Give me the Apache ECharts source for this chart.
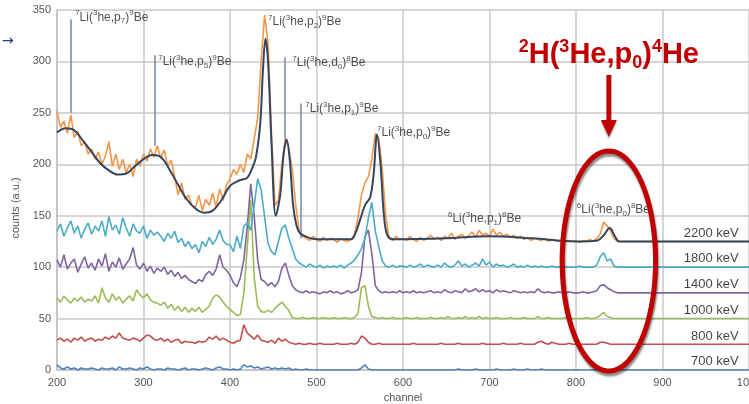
<!DOCTYPE html>
<html>
<head>
<meta charset="utf-8">
<script src="https://cdn.jsdelivr.net/npm/echarts@6/dist/echarts.min.js"></script>
<style>
html, body { margin: 0; padding: 0; background: #fff; }
#chart { width: 749px; height: 404px; }
</style>
</head>
<body>
<div id="chart"></div>
<script>
// spectra sampled every 4 channels from 200 to 876, flat to 1000 after that
var chStart = 200, chStep = 4, chEnd = 1000;

var s700 = [
    5, 2, 1, 3, 1, 2, 0, 2, 1, 1,
    2, 1, 0, 2, 1, 1, 2, 0, 3, 1,
    1, 2, 1, 0, 2, 1, 3, 1, 0, 1,
    1, 0, 2, 1, 1, 0, 1, 2, 0, 1,
    1, 0, 1, 2, 1, 0, 2, 3, 1, 1,
    0, 1, 0, 1, 5, 3, 4, 2, 3, 1,
    2, 3, 1, 2, 1, 2, 1, 2, 0, 1,
    0, 0, 1, 0, 0, 0, 0, 0, 0, 0,
    0, 0, 0, 0, 0, 0, 0, 0, 2, 5,
    1, 0, 0, 0, 0, 0, 0, 0, 0, 0,
    0, 0, 0, 0, 0, 0, 0, 0, 0, 0,
    0, 0, 0, 0, 0, 0, 1, 0, 0, 0,
    0, 1, 0, 0, 0, 0, 0, 1, 0, 0,
    0, 0, 1, 0, 0, 0, 1, 0, 0, 0,
    1, 0, 0, 0, 0, 0, 0, 0, 0, 0,
    0, 0, 0, 0, 0, 0, 0, 1, 1, 0,
    0, 0, 0, 0, 0, 0, 0, 0, 0, 0
];
var s800 = [
    29, 31, 28, 30, 27, 31, 29, 32, 28, 30,
    31, 28, 30, 29, 32, 30, 33, 31, 36, 31,
    30, 29, 31, 30, 28, 31, 34, 33, 30, 29,
    31, 28, 30, 27, 29, 30, 26, 28, 27, 27,
    26, 28, 27, 28, 32, 30, 33, 29, 31, 29,
    27, 26, 28, 29, 44, 36, 33, 30, 34, 29,
    28, 27, 29, 26, 31, 28, 30, 27, 26, 25,
    26, 25, 25, 26, 25, 25, 26, 25, 25, 25,
    25, 26, 25, 25, 25, 26, 25, 27, 33, 31,
    27, 25, 25, 26, 25, 25, 25, 25, 25, 25,
    25, 25, 25, 26, 25, 25, 25, 25, 25, 25,
    25, 26, 25, 25, 25, 25, 26, 25, 25, 25,
    25, 25, 25, 26, 25, 25, 25, 25, 25, 26,
    25, 25, 25, 25, 26, 25, 25, 25, 25, 27,
    28, 26, 25, 27, 26, 25, 25, 25, 26, 25,
    25, 25, 25, 25, 25, 25, 25, 27, 27, 26,
    25, 25, 25, 25, 25, 25, 25, 25, 25, 25
];
var s1000 = [
    70, 66, 72, 68, 65, 70, 67, 71, 66, 69,
    67, 72, 65, 80, 70, 66, 74, 68, 71, 65,
    69, 72, 67, 78, 73, 70, 74, 68, 66, 65,
    63, 66, 60, 64, 58, 62, 57, 61, 56, 60,
    57, 61, 56, 59, 62, 70, 73, 71, 66, 62,
    59, 56, 53, 54, 75, 120, 165, 90, 62, 57,
    56, 58, 56, 60, 63, 66, 62, 58, 51, 50,
    50, 51, 50, 50, 51, 50, 50, 51, 50, 50,
    51, 50, 50, 51, 50, 50, 51, 55, 80, 82,
    62, 52, 51, 50, 51, 50, 50, 51, 50, 50,
    50, 51, 50, 50, 51, 50, 50, 50, 51, 50,
    50, 51, 50, 52, 50, 50, 51, 50, 52, 50,
    51, 50, 52, 50, 51, 50, 50, 51, 50, 50,
    50, 51, 50, 50, 50, 51, 50, 50, 50, 52,
    50, 50, 51, 50, 50, 50, 50, 51, 50, 50,
    50, 50, 50, 51, 50, 50, 51, 53, 56, 52,
    51, 50, 50, 50, 50, 50, 50, 50, 50, 50
];
var s1400 = [
    107, 100, 112, 98, 104, 108, 95, 103, 110, 99,
    104, 97, 108, 101, 113, 96, 105, 100, 109, 98,
    103, 108, 119, 102, 98, 104, 96, 101, 94, 99,
    96, 100, 93, 97, 91, 95, 89, 92, 88, 86,
    84, 88, 86, 93, 96, 92, 98, 112, 100, 97,
    92, 85, 81, 90, 107, 140, 181, 150, 107, 88,
    86, 82, 85, 81, 86, 99, 104, 92, 82, 78,
    76, 75, 77, 75, 76, 75, 74, 76, 75, 77,
    75, 76, 74, 75, 77, 75, 76, 78, 95, 130,
    136, 113, 82, 77, 75, 76, 75, 76, 75, 77,
    75, 76, 75, 77, 75, 76, 75, 76, 77, 75,
    76, 75, 78, 76, 75, 77, 76, 75, 79, 76,
    77, 79, 76, 78, 76, 77, 75, 78, 76, 77,
    76, 75, 77, 76, 75, 76, 75, 76, 75, 79,
    76, 75, 76, 75, 75, 76, 75, 75, 76, 75,
    75, 75, 76, 75, 75, 76, 77, 82, 83, 80,
    78, 76, 75, 75, 75, 75, 75, 75, 75, 75
];
var s1800 = [
    135, 142, 130, 138, 145, 133, 140, 128, 137, 143,
    132, 140, 135, 145, 130, 149, 136, 141, 132, 148,
    138, 130, 142, 135, 133, 140, 128, 136, 131, 134,
    130, 125, 133, 128, 135, 124, 128, 120, 125, 118,
    122, 114, 125, 120, 129, 122, 127, 136, 126, 122,
    122, 115, 130, 118, 140, 143, 136, 160, 186, 175,
    149, 123, 115, 112, 125, 138, 141, 128, 118, 108,
    104, 102, 100, 103, 101, 100, 102, 99, 101, 100,
    101, 100, 102, 99, 102, 104, 107, 112, 118, 128,
    148, 163, 135, 120, 106, 101, 100, 102, 100, 101,
    101, 100, 102, 100, 101, 103, 100, 102, 101, 100,
    102, 100, 104, 101, 100, 102, 106, 101, 103, 100,
    102, 104, 101, 108, 102, 105, 100, 103, 101, 102,
    100, 101, 103, 100, 101, 100, 102, 100, 101, 100,
    101, 100, 100, 101, 100, 100, 101, 100, 100, 100,
    100, 101, 100, 100, 100, 100, 102, 110, 114, 106,
    108, 101, 100, 100, 100, 100, 100, 100, 100, 100
];
var s2200 = [
    252, 236, 242, 230, 248, 226, 232, 218, 222, 210,
    215, 205, 212, 200, 208, 222, 198, 210, 195, 205,
    192, 200, 188, 205, 198, 210, 203, 215, 207, 218,
    206, 214, 198, 204, 188, 170, 182, 166, 170, 160,
    158, 170, 155, 166, 160, 172, 158, 176, 165, 180,
    186, 195, 190, 200, 192, 210, 205, 225, 245, 300,
    345, 318, 230, 160, 165, 200, 225, 215, 195, 160,
    135, 130, 128, 126, 130, 127, 125, 129, 126, 128,
    127, 124, 128, 126, 125, 127, 132, 148, 170, 182,
    188, 205, 230, 225, 195, 150, 128, 126, 130, 127,
    128, 126, 130, 127, 125, 129, 126, 128, 131, 127,
    129, 126, 130, 128, 133, 127, 130, 132, 128, 131,
    134, 129, 136, 131, 133, 130, 137, 131, 134, 130,
    132, 129, 131, 128, 130, 127, 129, 126, 128, 127,
    126, 128, 125, 127, 126, 125, 127, 125, 126, 125,
    126, 124, 126, 125, 127, 125, 128, 132, 144, 140,
    135, 128, 125, 125, 125, 125, 125, 125, 125, 125
];

// fitted curve for 2200 keV
var fitCh = [200, 210, 220, 230, 240, 250, 260, 270, 280, 290,
    300, 310, 320, 330, 340, 350, 360, 370, 380, 390,
    400, 410, 420, 425, 430, 435, 438, 441, 444, 448,
    453, 458, 462, 465.5, 469, 473, 477, 481, 490, 500,
    540, 545, 550, 556, 562, 566, 570, 574, 578, 582,
    590, 650, 700, 750, 800, 825, 832, 839, 845, 850, 1000];
var fitVal = [231, 235, 233, 223, 212, 201, 194, 190, 191, 198,
    205, 209, 207, 195, 180, 166, 157, 153, 155, 165,
    179, 184, 187, 195, 207, 240, 290, 322, 300, 220,
    150, 170, 210, 224, 205, 160, 140, 133, 129, 127,
    127, 133, 145, 160, 168, 190, 229, 200, 150, 131,
    127, 128, 130, 128, 125, 126, 131, 138, 130, 125, 125];

var seriesNames = ['700 keV', '800 keV', '1000 keV', '1400 keV', '1800 keV', '2200 keV'];
var seriesData = [s700, s800, s1000, s1400, s1800, s2200];
var baselines = [0, 25, 50, 75, 100, 125];
var colors = ['#4f81bd', '#c0504d', '#9bbb59', '#8064a2', '#4bacc6', '#f79646'];

// peak labels: text, channel, counts
var annoText = [
    '{sup|7}Li({sup|3}he,p{sub|7}){sup|9}Be',
    '{sup|7}Li({sup|3}he,p{sub|5}){sup|9}Be',
    '{sup|7}Li({sup|3}he,p{sub|2}){sup|9}Be',
    '{sup|7}Li({sup|3}he,d{sub|0}){sup|8}Be',
    '{sup|7}Li({sup|3}he,p{sub|1}){sup|9}Be',
    '{sup|7}Li({sup|3}he,p{sub|0}){sup|9}Be',
    '{sup|6}Li({sup|3}he,p{sub|1}){sup|8}Be',
    '{sup|6}Li({sup|3}he,p{sub|0}){sup|8}Be'
];
var annoCh = [221, 317, 444, 472, 487, 570, 652, 801];
var annoVal = [343, 300, 339, 299, 254, 231, 147, 156];

// marker lines: channel, low, high
var markCh = [216, 313, 463.5, 482];
var markLo = [250, 218, 223, 128];
var markHi = [341, 306, 304, 259];

function toPairs(vals) {
    var out = [];
    for (var i = 0; i < vals.length; i++) {
        out.push([chStart + i * chStep, vals[i]]);
    }
    out.push([chEnd, vals[vals.length - 1]]);
    return out;
}

var myChart = echarts.init(document.getElementById('chart'));

var series = [];
for (var k = 0; k < seriesData.length; k++) {
    series.push({
        name: seriesNames[k],
        type: 'line',
        data: toPairs(seriesData[k]),
        showSymbol: false,
        lineStyle: { width: 1.6, color: colors[k] },
        itemStyle: { color: colors[k] },
        z: 2 + k
    });
}

series.push({
    name: 'fit',
    type: 'line',
    data: fitCh.map(function (c, i) { return [c, fitVal[i]]; }),
    smooth: 0.35,
    showSymbol: false,
    lineStyle: { width: 2, color: '#33465f' },
    z: 10
});

var markLines = [];
for (var m = 0; m < markCh.length; m++) {
    markLines.push([{ coord: [markCh[m], markLo[m]] }, { coord: [markCh[m], markHi[m]] }]);
}
series.push({
    name: 'marks',
    type: 'line',
    data: [],
    markLine: {
        silent: true,
        symbol: 'none',
        label: { show: false },
        lineStyle: { color: '#7587a6', width: 1.5, type: 'solid' },
        data: markLines
    },
    z: 11
});

var richAnno = {
    sup: { fontSize: 8, verticalAlign: 'top', lineHeight: 16, color: '#222' },
    sub: { fontSize: 8, verticalAlign: 'bottom', lineHeight: 16, color: '#222' }
};
series.push({
    name: 'annotations',
    type: 'scatter',
    symbolSize: 0,
    silent: true,
    data: annoCh.map(function (c, i) { return [c, annoVal[i], annoText[i]]; }),
    label: {
        show: true,
        position: 'right',
        distance: 0,
        color: '#222',
        fontSize: 12,
        lineHeight: 16,
        fontFamily: 'Liberation Sans, Arial, sans-serif',
        formatter: function (p) { return p.data[2]; },
        rich: richAnno
    },
    z: 12
});

series.push({
    name: 'energies',
    type: 'scatter',
    symbolSize: 0,
    silent: true,
    data: baselines.map(function (b, i) { return [988, b + 8, seriesNames[i]]; }),
    label: {
        show: true,
        position: 'left',
        distance: 0,
        color: '#111',
        fontSize: 13,
        fontFamily: 'Liberation Sans, Arial, sans-serif',
        formatter: function (p) { return p.data[2]; }
    },
    z: 12
});

var option = {
    animation: false,
    backgroundColor: '#fff',
    grid: { left: 57, right: 0, top: 10, bottom: 34, containLabel: false, outerBoundsMode: 'none' },
    xAxis: {
        type: 'value',
        min: 200,
        max: 1000,
        interval: 100,
        name: 'channel',
        nameLocation: 'middle',
        nameGap: 22,
        nameTextStyle: { color: '#555', fontSize: 11, fontFamily: 'Liberation Sans, Arial, sans-serif' },
        axisLine: { lineStyle: { color: '#bfbfbf', width: 1.5 } },
        axisTick: { show: false },
        axisLabel: {
            color: '#555', fontSize: 11, margin: 7, fontFamily: 'Liberation Sans, Arial, sans-serif',
            formatter: function (v) { return String(v); }
        },
        splitLine: { lineStyle: { color: '#c8c8c8', width: 1.5 } }
    },
    yAxis: {
        type: 'value',
        min: 0,
        max: 350,
        interval: 50,
        name: 'counts (a.u.)',
        nameLocation: 'middle',
        nameGap: 24,
        nameTextStyle: {
            color: '#555', fontSize: 11, fontFamily: 'Liberation Sans, Arial, sans-serif',
            padding: [0, 36, 0, 0]
        },
        axisLine: { show: true, lineStyle: { color: '#bfbfbf', width: 1.5 } },
        axisTick: { show: false },
        axisLabel: { color: '#555', fontSize: 11, margin: 6, fontFamily: 'Liberation Sans, Arial, sans-serif' },
        splitLine: { lineStyle: { color: '#c8c8c8', width: 1.5 } }
    },
    series: series
};

myChart.setOption(option);

// red highlight for the d(3He,p)4He region
var ellCenter = myChart.convertToPixel({ gridIndex: 0 }, [838, 106]);
var ellTop = myChart.convertToPixel({ gridIndex: 0 }, [838, 213]);
var ellSide = myChart.convertToPixel({ gridIndex: 0 }, [892, 106]);
var ellRx = ellSide[0] - ellCenter[0], ellRy = ellCenter[1] - ellTop[1];
var ring = [];
for (var a = 0; a < 96; a++) {
    var t = a / 96 * Math.PI * 2;
    ring.push([ellCenter[0] + ellRx * Math.cos(t), ellCenter[1] + ellRy * Math.sin(t)]);
}
var cx = ellCenter[0];

myChart.setOption({
    graphic: [
        {
            type: 'text',
            left: 2,
            top: 34,
            style: { text: '\u2192', fill: '#1f3c88', fontSize: 14, fontFamily: 'DejaVu Sans' }
        },
        {
            type: 'polygon',
            shape: { points: ring },
            style: {
                fill: 'none', stroke: '#c00000', lineWidth: 5,
                shadowColor: 'rgba(0,0,0,0.45)', shadowBlur: 2, shadowOffsetX: 1, shadowOffsetY: 3
            },
            z: 100
        },
        {
            type: 'rect',
            shape: { x: cx - 2.5, y: 75, width: 5, height: 47 },
            style: { fill: '#c00000' },
            z: 100
        },
        {
            type: 'polygon',
            shape: { points: [[cx - 8, 120], [cx + 8, 120], [cx, 137]] },
            style: { fill: '#c00000', shadowColor: 'rgba(0,0,0,0.35)', shadowBlur: 2, shadowOffsetY: 2 },
            z: 100
        },
        {
            type: 'text',
            x: cx,
            y: 38,
            style: {
                text: '{s|2}H({s|3}He,p{b|0}){s|4}He',
                align: 'center',
                fill: '#c00000',
                fontSize: 29,
                fontWeight: 'bold',
                lineHeight: 34,
                fontFamily: 'Liberation Sans, Arial, sans-serif',
                rich: {
                    s: { fontSize: 18, fontWeight: 'bold', verticalAlign: 'top', lineHeight: 34, fill: '#c00000' },
                    b: { fontSize: 18, fontWeight: 'bold', verticalAlign: 'bottom', lineHeight: 34, fill: '#c00000' }
                }
            },
            z: 100
        }
    ]
});
</script>
</body>
</html>
